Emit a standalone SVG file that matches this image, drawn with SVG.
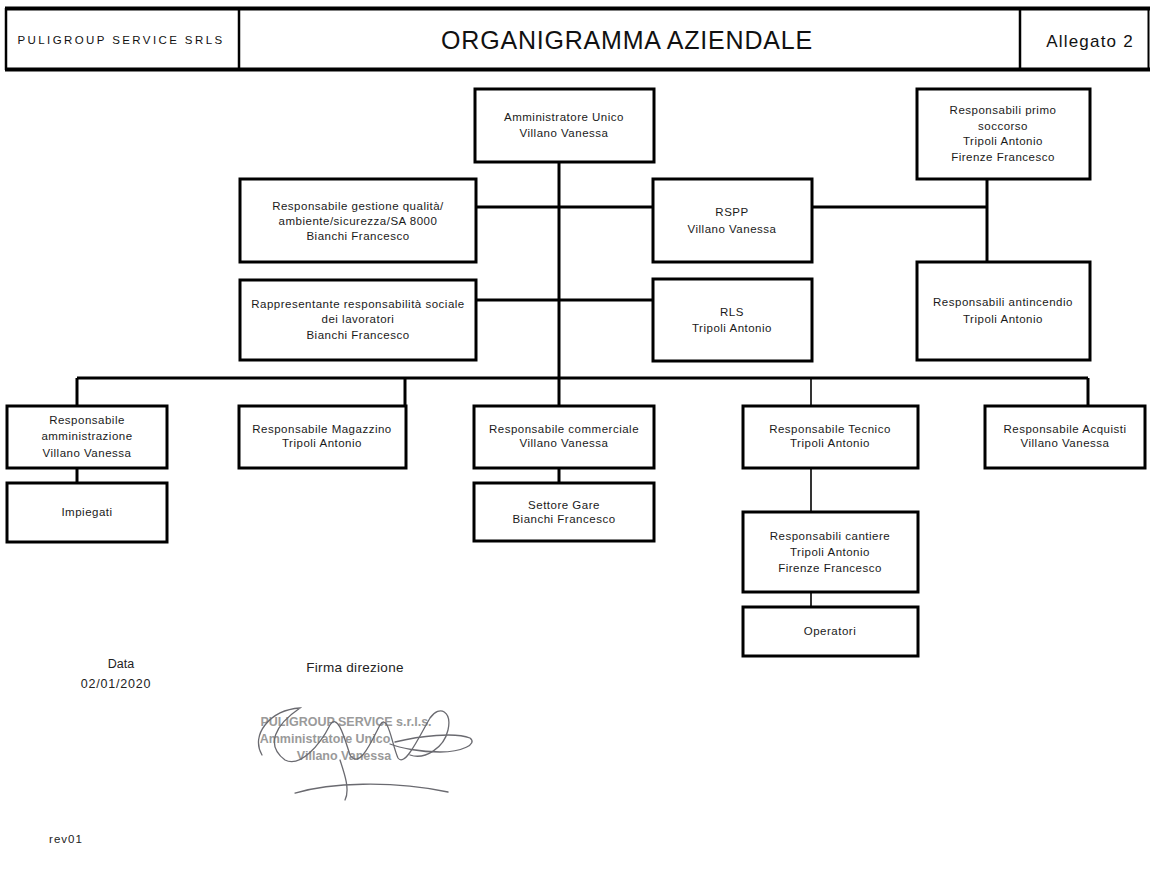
<svg xmlns="http://www.w3.org/2000/svg" width="1151" height="872" viewBox="0 0 1151 872">
<style>
.box{fill:#fff;stroke:#000;stroke-width:3}
.t{font-family:"Liberation Sans",Arial,sans-serif;font-size:11.5px;fill:#1a1a1a;text-anchor:middle;letter-spacing:0.5px}
.c{stroke:#000;stroke-width:3;fill:none}
.thin{stroke:#000;stroke-width:1.6;fill:none}
.hdr{font-family:"Liberation Sans",Arial,sans-serif;fill:#111;text-anchor:middle}
.foot{font-family:"Liberation Sans",Arial,sans-serif;fill:#222;text-anchor:middle}
.stamp{font-family:"Liberation Sans",Arial,sans-serif;font-weight:bold;fill:#9a9a9a;text-anchor:middle}
.sig{fill:none;stroke:#6a6a70;stroke-width:1.3;stroke-linecap:round}
</style>
<rect width="1151" height="872" fill="#fff"/>
<g id="header">
  <line x1="5" y1="8.5" x2="1150" y2="8.5" stroke="#000" stroke-width="4"/>
  <line x1="5" y1="69.5" x2="1150" y2="69.5" stroke="#000" stroke-width="4"/>
  <line x1="6" y1="8" x2="6" y2="70" stroke="#000" stroke-width="2.5"/>
  <line x1="239" y1="8" x2="239" y2="70" stroke="#000" stroke-width="2.5"/>
  <line x1="1020" y1="8" x2="1020" y2="70" stroke="#000" stroke-width="2.5"/>
  <line x1="1148.5" y1="8" x2="1148.5" y2="70" stroke="#000" stroke-width="2"/>
  <text class="hdr" x="121" y="44" font-size="11.5" letter-spacing="2.4">PULIGROUP SERVICE SRLS</text>
  <text class="hdr" x="627" y="49" font-size="25" letter-spacing="0.8">ORGANIGRAMMA AZIENDALE</text>
  <text class="hdr" x="1090" y="47" font-size="17" letter-spacing="1.2">Allegato 2</text>
</g>
<g id="connectors">
  <line class="c" x1="559" y1="162" x2="559" y2="406"/>
  <line class="c" x1="476" y1="207" x2="653" y2="207"/>
  <line class="c" x1="812" y1="207" x2="987" y2="207"/>
  <line class="c" x1="987" y1="179" x2="987" y2="262"/>
  <line class="c" x1="476" y1="300" x2="653" y2="300"/>
  <line class="c" x1="77" y1="378" x2="1088" y2="378"/>
  <line class="c" x1="77" y1="378" x2="77" y2="406"/>
  <line class="c" x1="405" y1="378" x2="405" y2="406"/>
  <line class="thin" x1="811" y1="378" x2="811" y2="406"/>
  <line class="c" x1="1088" y1="378" x2="1088" y2="406"/>
  <line class="c" x1="77" y1="468" x2="77" y2="483"/>
  <line class="c" x1="559" y1="468" x2="559" y2="483"/>
  <line class="thin" x1="811" y1="468" x2="811" y2="512"/>
  <line class="thin" x1="811" y1="592" x2="811" y2="607"/>
</g>
<g id="amministratore">
  <rect class="box" x="475" y="89" width="179" height="73"/>
  <text class="t" x="564" y="121">Amministratore Unico</text>
  <text class="t" x="564" y="137">Villano Vanessa</text>
</g>
<g id="primo-soccorso">
  <rect class="box" x="917" y="89" width="173" height="90"/>
  <text class="t" x="1003" y="114">Responsabili primo</text>
  <text class="t" x="1003" y="130">soccorso</text>
  <text class="t" x="1003" y="145">Tripoli Antonio</text>
  <text class="t" x="1003" y="161">Firenze Francesco</text>
</g>
<g id="qualita">
  <rect class="box" x="240" y="179" width="236" height="83"/>
  <text class="t" x="358" y="210">Responsabile gestione qualità/</text>
  <text class="t" x="358" y="225">ambiente/sicurezza/SA 8000</text>
  <text class="t" x="358" y="240">Bianchi Francesco</text>
</g>
<g id="rspp">
  <rect class="box" x="653" y="179" width="159" height="83"/>
  <text class="t" x="732" y="216">RSPP</text>
  <text class="t" x="732" y="233">Villano Vanessa</text>
</g>
<g id="rappresentante">
  <rect class="box" x="240" y="280" width="236" height="80"/>
  <text class="t" x="358" y="308">Rappresentante responsabilità sociale</text>
  <text class="t" x="358" y="323">dei lavoratori</text>
  <text class="t" x="358" y="339">Bianchi Francesco</text>
</g>
<g id="rls">
  <rect class="box" x="653" y="279" width="159" height="82"/>
  <text class="t" x="732" y="316">RLS</text>
  <text class="t" x="732" y="332">Tripoli Antonio</text>
</g>
<g id="antincendio">
  <rect class="box" x="917" y="262" width="173" height="98"/>
  <text class="t" x="1003" y="306">Responsabili antincendio</text>
  <text class="t" x="1003" y="323">Tripoli Antonio</text>
</g>
<g id="amministrazione">
  <rect class="box" x="7" y="406" width="160" height="62"/>
  <text class="t" x="87" y="424">Responsabile</text>
  <text class="t" x="87" y="440">amministrazione</text>
  <text class="t" x="87" y="457">Villano Vanessa</text>
</g>
<g id="impiegati">
  <rect class="box" x="7" y="483" width="160" height="59"/>
  <text class="t" x="87" y="516">Impiegati</text>
</g>
<g id="magazzino">
  <rect class="box" x="239" y="406" width="167" height="62"/>
  <text class="t" x="322" y="433">Responsabile Magazzino</text>
  <text class="t" x="322" y="447">Tripoli Antonio</text>
</g>
<g id="commerciale">
  <rect class="box" x="474" y="406" width="180" height="62"/>
  <text class="t" x="564" y="433">Responsabile commerciale</text>
  <text class="t" x="564" y="447">Villano Vanessa</text>
</g>
<g id="settore-gare">
  <rect class="box" x="474" y="483" width="180" height="58"/>
  <text class="t" x="564" y="509">Settore Gare</text>
  <text class="t" x="564" y="523">Bianchi Francesco</text>
</g>
<g id="tecnico">
  <rect class="box" x="743" y="406" width="175" height="62"/>
  <text class="t" x="830" y="433">Responsabile Tecnico</text>
  <text class="t" x="830" y="447">Tripoli Antonio</text>
</g>
<g id="acquisti">
  <rect class="box" x="985" y="406" width="160" height="62"/>
  <text class="t" x="1065" y="433">Responsabile Acquisti</text>
  <text class="t" x="1065" y="447">Villano Vanessa</text>
</g>
<g id="cantiere">
  <rect class="box" x="743" y="512" width="175" height="80"/>
  <text class="t" x="830" y="540">Responsabili cantiere</text>
  <text class="t" x="830" y="556">Tripoli Antonio</text>
  <text class="t" x="830" y="572">Firenze Francesco</text>
</g>
<g id="operatori">
  <rect class="box" x="743" y="607" width="175" height="49"/>
  <text class="t" x="830" y="635">Operatori</text>
</g>
<g id="footer">
  <text class="foot" x="121" y="668" font-size="12.5">Data</text>
  <text class="foot" x="116" y="688" font-size="12.5" letter-spacing="0.8">02/01/2020</text>
  <text class="foot" x="355" y="672" font-size="13.5" letter-spacing="0.3">Firma direzione</text>
  <text class="foot" x="66" y="843" font-size="11.5" letter-spacing="1">rev01</text>
</g>
<g id="signature">
  <text class="stamp" x="346" y="726" font-size="12.5">PULIGROUP SERVICE s.r.l.s.</text>
  <text class="stamp" x="325" y="743" font-size="12.5">Amministratore Unico</text>
  <text class="stamp" x="344" y="760" font-size="12.5">Villano Vanessa</text>
  <path class="sig" d="M262 755 C250 735 270 710 300 708 C275 725 265 745 285 760 C300 768 320 745 330 725 C338 712 345 740 350 755 C360 770 372 740 380 725 C388 712 392 745 398 758 C405 768 420 735 430 718 C440 704 452 712 448 730 C444 748 425 760 410 755"/>
  <path class="sig" d="M395 742 C420 736 455 732 470 738 C478 744 462 752 440 752 C420 752 400 748 390 744"/>
  <path class="sig" d="M295 793 C330 783 390 780 448 792"/>
  <path class="sig" d="M340 760 C345 775 350 790 345 800"/>
</g>
</svg>
